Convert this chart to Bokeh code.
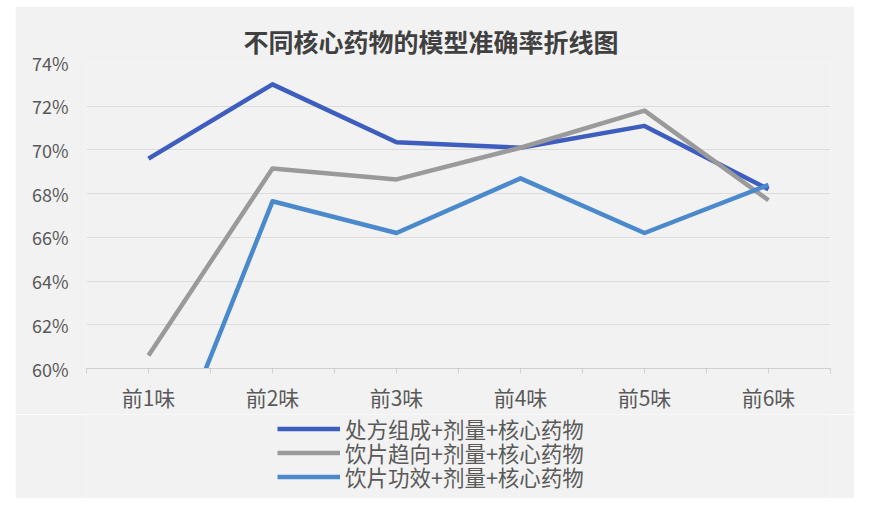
from bokeh.plotting import figure
from bokeh.models import Range1d, FixedTicker, PrintfTickFormatter, Legend, LegendItem, Spacer
from bokeh.layouts import row, column
from bokeh.embed import file_html
from bokeh.resources import INLINE

title_text = "不同核心药物的模型准确率折线图"
categories = ["前1味", "前2味", "前3味", "前4味", "前5味", "前6味"]
series_names = ["处方组成+剂量+核心药物", "饮片趋向+剂量+核心药物", "饮片功效+剂量+核心药物"]
s_prescription = [69.6, 73.0, 70.35, 70.1, 71.1, 68.2]
s_tendency = [60.6, 69.15, 68.65, 70.1, 71.8, 67.7]
s_efficacy = [53.4, 67.65, 66.2, 68.7, 66.2, 68.4]
y_ticks = [60, 62, 64, 66, 68, 70, 72, 74]
colors = ["#3d5dbf", "#9a9a9a", "#4a89cc"]

FONT = "Noto Sans CJK SC"
BG = "#f2f2f2"
LW = 4.5

x_pos = [i + 0.5 for i in range(len(categories))]
all_series = [s_prescription, s_tendency, s_efficacy]

p = figure(width=839, height=408, output_backend="svg", toolbar_location=None,
           x_range=Range1d(0, len(categories)), y_range=Range1d(y_ticks[0], y_ticks[-1]),
           min_border_left=71, min_border_right=24, min_border_top=56, min_border_bottom=46)
p.background_fill_color = BG
p.border_fill_color = BG
p.outline_line_color = None

p.title.text = title_text
p.title.align = "left"
p.title.offset = 157
p.title.text_font = FONT
p.title.text_font_size = "25px"
p.title.text_font_style = "bold"
p.title.text_color = "#404040"
p.title.standoff = 8

# y axis
p.yaxis.ticker = FixedTicker(ticks=y_ticks)
p.yaxis.formatter = PrintfTickFormatter(format="%d%%")
p.yaxis.axis_line_color = None
p.yaxis.major_tick_line_color = None
p.yaxis.minor_tick_line_color = None
p.yaxis.major_label_standoff = 12
p.yaxis.major_label_text_font = FONT
p.yaxis.major_label_text_font_size = "18px"
p.yaxis.major_label_text_color = "#595959"

# x axis
p.xaxis.ticker = FixedTicker(ticks=x_pos, minor_ticks=list(range(len(categories) + 1)))
p.xaxis.major_label_overrides = {x: c for x, c in zip(x_pos, categories)}
p.xaxis.axis_line_color = "#d0d0d0"
p.xaxis.major_tick_line_color = "#d0d0d0"
p.xaxis.minor_tick_line_color = "#d0d0d0"
p.xaxis.major_tick_in = 0
p.xaxis.major_tick_out = 5
p.xaxis.minor_tick_in = 0
p.xaxis.minor_tick_out = 5
p.xaxis.major_label_standoff = 8
p.xaxis.major_label_text_font = FONT
p.xaxis.major_label_text_font_size = "21px"
p.xaxis.major_label_text_color = "#595959"

p.xgrid.grid_line_color = None
p.ygrid.grid_line_color = "#dcdcdc"
p.ygrid.grid_line_width = 1

for vals, col in zip(all_series, colors):
    p.line(x_pos, vals, line_color=col, line_width=LW, line_join="round")

# legend strip below the chart (its frame is aligned with the chart's frame)
p2 = figure(width=839, height=84, output_backend="svg", toolbar_location=None,
            x_axis_type=None, y_axis_type=None, x_range=Range1d(0, 1), y_range=Range1d(0, 1),
            min_border_left=71, min_border_right=24, min_border_top=0, min_border_bottom=0)
p2.background_fill_color = BG
p2.border_fill_color = BG
p2.outline_line_color = None
p2.grid.visible = False

# same series, outside this strip's ranges, so only their legend glyphs show;
# one single-item legend per row to get the tight row spacing of the original
row_bottoms = [54, 30, 6]
for name, vals, col, yb in zip(series_names, all_series, colors, row_bottoms):
    r = p2.line(x_pos, vals, line_color=col, line_width=LW)
    lg = Legend(items=[LegendItem(label=name, renderers=[r])],
                location=(191, yb), orientation="vertical",
                glyph_width=63, glyph_height=25, label_height=25, label_standoff=5,
                spacing=0, padding=0, margin=0,
                background_fill_alpha=0, border_line_color=None,
                label_text_font=FONT, label_text_font_size="21.5px", label_text_color="#595959")
    p2.add_layout(lg)

layout = column(Spacer(height=6), row(Spacer(width=15), column(p, p2, spacing=0), spacing=0), spacing=0)
open("out.html", "w").write(file_html(layout, INLINE))
